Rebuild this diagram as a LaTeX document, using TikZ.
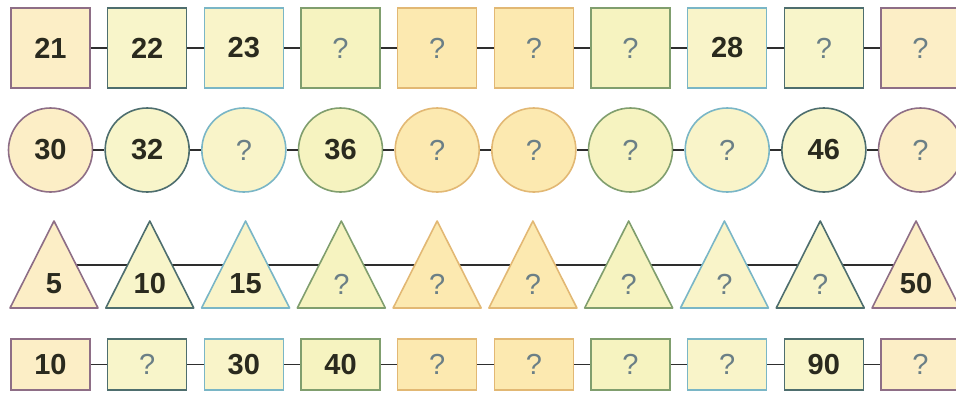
\documentclass[tikz,border=0pt]{standalone}
\usepackage{fontspec}
\setmainfont{Liberation Sans}
\definecolor{bc1}{HTML}{8E6E86}
\definecolor{bc2}{HTML}{4E6E6E}
\definecolor{bc3}{HTML}{7AB6C6}
\definecolor{bc4}{HTML}{809E6E}
\definecolor{bc5}{HTML}{E2B874}
\definecolor{bc6}{HTML}{E2B874}
\definecolor{bc7}{HTML}{809E6E}
\definecolor{bc8}{HTML}{7AB6C6}
\definecolor{bc9}{HTML}{4E6E6E}
\definecolor{bc10}{HTML}{8E6E86}
\definecolor{fc1}{HTML}{FCEEC6}
\definecolor{fc2}{HTML}{F8F5CA}
\definecolor{fc3}{HTML}{F9F4C9}
\definecolor{fc4}{HTML}{F6F3C0}
\definecolor{fc5}{HTML}{FCE9B0}
\definecolor{fc6}{HTML}{FCE9B0}
\definecolor{fc7}{HTML}{F6F3C0}
\definecolor{fc8}{HTML}{F9F4C9}
\definecolor{fc9}{HTML}{F8F5CA}
\definecolor{fc10}{HTML}{FCEEC6}
\definecolor{numcol}{HTML}{2A2A1E}
\definecolor{qcol}{HTML}{6B7F86}
\definecolor{conncol}{HTML}{2E2E2E}
\newcommand\qm{{\mdseries\color{qcol}?}}
\begin{document}
\begin{tikzpicture}[x=1pt,y=-1pt,
  lab/.style={inner sep=0pt, font=\bfseries\fontsize{29}{30}\selectfont, text=numcol},
  sq/.style={lab, rectangle, line width=1.6pt, minimum width=79pt, minimum height=80pt},
  rc/.style={lab, rectangle, line width=1.6pt, minimum width=79pt, minimum height=51pt},
  ci/.style={lab, circle, line width=1.6pt, minimum size=84pt},
  tri/.style={line width=1.6pt, line join=round},
  conn/.style={draw=conncol, line width=1.6pt}]
\useasboundingbox (0,0) rectangle (956,392);
% connectors of the triangle row (behind the triangles)
\foreach \i in {1,...,10} {
  \pgfmathsetmacro\tx{54+95.78*(\i-1)}
  \coordinate (t\i) at (\tx,265);
}
\foreach \i [evaluate=\i as \j using int(\i+1)] in {1,...,9} {
  \draw[conn] (t\i) -- (t\j);
}
\foreach \i/\a/\b/\c/\d in {1/21/30/5/10, 2/22/32/10/\qm, 3/23/\qm/15/30, 4/\qm/36/\qm/40, 5/\qm/\qm/\qm/\qm, 6/\qm/\qm/\qm/\qm, 7/\qm/\qm/\qm/\qm, 8/28/\qm/\qm/\qm, 9/\qm/46/\qm/90, 10/\qm/\qm/50/\qm} {
  \pgfmathsetmacro\cx{50.5+96.67*(\i-1)}
  \pgfmathsetmacro\tx{54+95.78*(\i-1)}
  \node[sq, draw=bc\i, fill=fc\i] (r\i) at (\cx,48) {\a};
  \node[ci, draw=bc\i, fill=fc\i] (c\i) at (\cx,150) {\b};
  \draw[tri, draw=bc\i, fill=fc\i] (\tx-44,308) -- (\tx,221) -- (\tx+44,308) -- cycle;
  \node[lab] (tl\i) at (\tx,284) {\c};
  \node[rc, draw=bc\i, fill=fc\i] (s\i) at (\cx,364.5) {\d};
}
\foreach \i [evaluate=\i as \j using int(\i+1)] in {1,...,9} {
  \draw[conn] (r\i) -- (r\j);
  \draw[conn] (c\i) -- (c\j);
  \draw[conn] (s\i) -- (s\j);
}
\end{tikzpicture}
\end{document}
